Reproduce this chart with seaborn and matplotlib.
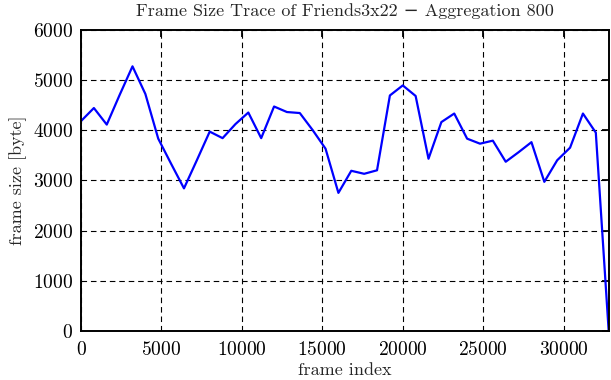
"""
Frame size trace — Friends 3x22, aggregation 800.
"""
import numpy as np
import pandas as pd
import matplotlib
matplotlib.use('Agg')
import matplotlib.pyplot as plt
import seaborn as sns

# frame index (aggregation window start) and mean frame size [byte]
frame_index = [0, 800, 1600, 2400, 3200, 4000, 4800, 5600, 6400, 7200,
               8000, 8800, 9600, 10400, 11200, 12000, 12800, 13600, 14400, 15200,
               16000, 16800, 17600, 18400, 19200, 20000, 20800, 21600, 22400, 23200,
               24000, 24800, 25600, 26400, 27200, 28000, 28800, 29600, 30400, 31200,
               32000, 32800]
frame_size = [4180, 4440, 4110, 4700, 5270, 4720, 3830, 3330, 2840, 3400,
              3970, 3840, 4120, 4350, 3840, 4470, 4360, 4340, 4000, 3630,
              2750, 3190, 3130, 3200, 4690, 4890, 4680, 3430, 4160, 4330,
              3830, 3730, 3790, 3370, 3560, 3760, 2970, 3400, 3650, 4330,
              3950, 0]

x_ticks = [0, 5000, 10000, 15000, 20000, 25000, 30000]
y_ticks = [0, 1000, 2000, 3000, 4000, 5000, 6000]

sns.set_style('white')
plt.rcParams.update({
    'font.family': ['cmr10', 'DejaVu Serif'],
    'font.size': 13,
    'axes.unicode_minus': False,
    'axes.formatter.use_mathtext': True,
})

df = pd.DataFrame({'frame index': frame_index, 'frame size': frame_size})

fig = plt.figure(figsize=(6.11, 3.80), dpi=100, facecolor='white')
ax = fig.add_axes([0.1326, 0.129, 0.8636, 0.7929])

sns.lineplot(data=df, x='frame index', y='frame size', ax=ax,
             color='#0000FF', linewidth=1.6)

ax.set_xlim(0, frame_index[-1])
ax.set_ylim(0, 6000)
ax.set_xticks(x_ticks)
ax.set_yticks(y_ticks)
ax.grid(True, color='black', linestyle=(0, (5, 3.5)), linewidth=0.8)
ax.set_axisbelow(True)

ax.tick_params(direction='in', length=5, width=1.3, top=True, right=True,
               colors='black', labelsize=14)
ax.tick_params(axis='y', pad=6)
ax.tick_params(axis='x', pad=7)
for spine in ax.spines.values():
    spine.set_edgecolor('black')
    spine.set_linewidth(1.4)

ax.set_title('Frame Size Trace of Friends3x22 \u2212 Aggregation 800',
             fontsize=13, pad=10)
ax.set_xlabel('frame index', fontsize=13, labelpad=3)
ax.set_ylabel('frame size [byte]', fontsize=13, labelpad=4)

fig.savefig('out.png', dpi=100, facecolor='white')
